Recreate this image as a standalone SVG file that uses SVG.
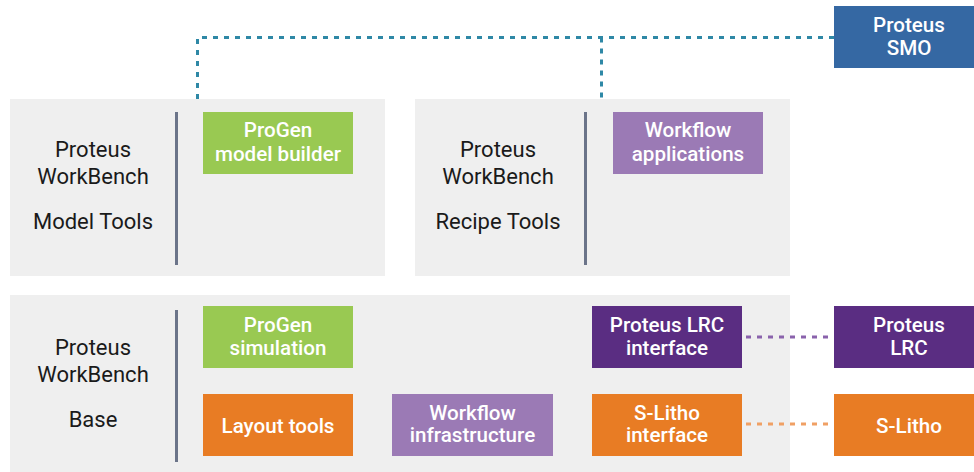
<svg xmlns="http://www.w3.org/2000/svg" width="974" height="472" viewBox="0 0 974 472">
<style>
.panel{fill:#efefef}
.sep{stroke:#6b7489;stroke-width:3}
.lbl{font-family:Roboto,"Liberation Sans",sans-serif;font-size:22px;fill:#1a1a1a;text-anchor:middle}
.bt{font-family:Roboto,"Liberation Sans",sans-serif;font-size:20.6px;font-weight:500;fill:#ffffff;text-anchor:middle}
.green{fill:#99c952}
.lpurple{fill:#9b7ab5}
.dpurple{fill:#5a2d82}
.orange{fill:#e87c24}
.blue{fill:#3568a3}
.dash{fill:none;stroke-width:3;stroke-dasharray:5 6}
</style>
<g id="panel-model-tools">
<rect class="panel" x="10" y="99" width="375" height="177"/>
<line class="sep" x1="176.5" y1="112" x2="176.5" y2="265"/>
<text class="lbl" x="93" y="157">Proteus</text>
<text class="lbl" x="93" y="184">WorkBench</text>
<text class="lbl" x="93" y="229">Model Tools</text>
</g>
<g id="panel-recipe-tools">
<rect class="panel" x="415" y="99" width="375" height="177"/>
<line class="sep" x1="585.5" y1="112" x2="585.5" y2="265"/>
<text class="lbl" x="498" y="157">Proteus</text>
<text class="lbl" x="498" y="184">WorkBench</text>
<text class="lbl" x="498" y="229">Recipe Tools</text>
</g>
<g id="panel-base">
<rect class="panel" x="10" y="295" width="780" height="177"/>
<line class="sep" x1="176.5" y1="310" x2="176.5" y2="462"/>
<text class="lbl" x="93" y="355">Proteus</text>
<text class="lbl" x="93" y="382">WorkBench</text>
<text class="lbl" x="93" y="427">Base</text>
</g>
<g id="connectors">
<path class="dash" stroke="#2e88a6" d="M197.5 99 V37.5 H834"/>
<path class="dash" stroke="#2e88a6" d="M601.5 37.5 V99"/>
<line class="dash" stroke="#8a62ac" x1="746" y1="337" x2="830" y2="337"/>
<line class="dash" stroke="#f0a064" x1="746" y1="424" x2="830" y2="424"/>
</g>
<g id="progen-model-builder">
<rect class="green" x="203" y="112" width="150" height="62"/>
<text class="bt" x="278" y="137">ProGen</text>
<text class="bt" x="278" y="161">model builder</text>
</g>
<g id="workflow-applications">
<rect class="lpurple" x="613" y="112" width="150" height="62"/>
<text class="bt" x="688" y="137">Workflow</text>
<text class="bt" x="688" y="161">applications</text>
</g>
<g id="proteus-smo">
<rect class="blue" x="834" y="6" width="140" height="62"/>
<text class="bt" x="909" y="32">Proteus</text>
<text class="bt" x="909" y="54.5">SMO</text>
</g>
<g id="progen-simulation">
<rect class="green" x="203" y="306" width="150" height="62"/>
<text class="bt" x="278" y="332">ProGen</text>
<text class="bt" x="278" y="354.5">simulation</text>
</g>
<g id="layout-tools">
<rect class="orange" x="203" y="394" width="150" height="62"/>
<text class="bt" x="278" y="433">Layout tools</text>
</g>
<g id="workflow-infrastructure">
<rect class="lpurple" x="392" y="394" width="161" height="62"/>
<text class="bt" x="472.5" y="419.5">Workflow</text>
<text class="bt" x="472.5" y="442">infrastructure</text>
</g>
<g id="proteus-lrc-interface">
<rect class="dpurple" x="592" y="306" width="150" height="62"/>
<text class="bt" x="667" y="332">Proteus LRC</text>
<text class="bt" x="667" y="354.5">interface</text>
</g>
<g id="proteus-lrc">
<rect class="dpurple" x="834" y="306" width="140" height="62"/>
<text class="bt" x="909" y="332">Proteus</text>
<text class="bt" x="909" y="354.5">LRC</text>
</g>
<g id="s-litho-interface">
<rect class="orange" x="592" y="394" width="150" height="62"/>
<text class="bt" x="667" y="419.5">S-Litho</text>
<text class="bt" x="667" y="442">interface</text>
</g>
<g id="s-litho">
<rect class="orange" x="834" y="394" width="140" height="62"/>
<text class="bt" x="909" y="433">S-Litho</text>
</g>
</svg>
